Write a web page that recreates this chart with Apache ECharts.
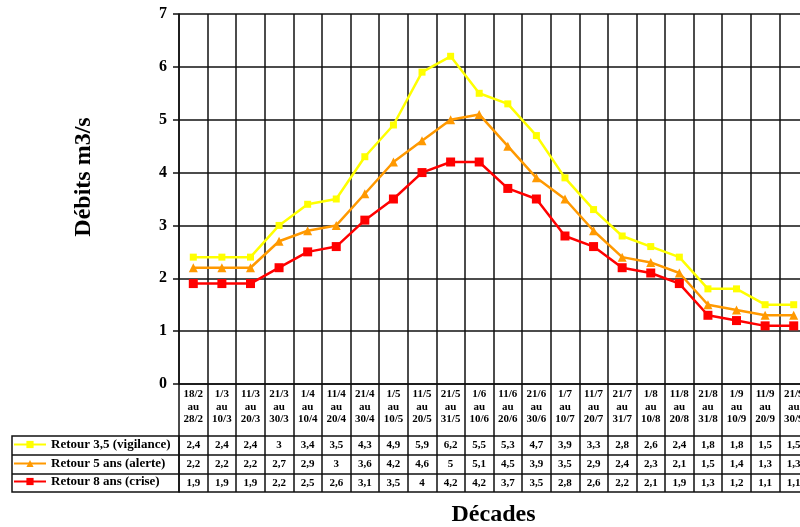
<!DOCTYPE html>
<html>
<head>
<meta charset="utf-8">
<script src="https://cdn.jsdelivr.net/npm/echarts@6/dist/echarts.min.js"></script>
<style>html,body{margin:0;padding:0;background:#fff}#c{width:800px;height:527px}</style>
</head>
<body>
<div id="c"></div>
<script>
const categories = ['18/2\nau\n28/2','1/3\nau\n10/3','11/3\nau\n20/3','21/3\nau\n30/3','1/4\nau\n10/4','11/4\nau\n20/4','21/4\nau\n30/4','1/5\nau\n10/5','11/5\nau\n20/5','21/5\nau\n31/5','1/6\nau\n10/6','11/6\nau\n20/6','21/6\nau\n30/6','1/7\nau\n10/7','11/7\nau\n20/7','21/7\nau\n31/7','1/8\nau\n10/8','11/8\nau\n20/8','21/8\nau\n31/8','1/9\nau\n10/9','11/9\nau\n20/9','21/9\nau\n30/9'];
const seriesNames = ['Retour 3,5 (vigilance)','Retour 5 ans (alerte)','Retour 8 ans (crise)'];
const vigilance = [2.4,2.4,2.4,3,3.4,3.5,4.3,4.9,5.9,6.2,5.5,5.3,4.7,3.9,3.3,2.8,2.6,2.4,1.8,1.8,1.5,1.5];
const alerte = [2.2,2.2,2.2,2.7,2.9,3,3.6,4.2,4.6,5,5.1,4.5,3.9,3.5,2.9,2.4,2.3,2.1,1.5,1.4,1.3,1.3];
const crise = [1.9,1.9,1.9,2.2,2.5,2.6,3.1,3.5,4,4.2,4.2,3.7,3.5,2.8,2.6,2.2,2.1,1.9,1.3,1.2,1.1,1.1];
const yTicks = [0,1,2,3,4,5,6,7];

const FONT = '"Liberation Serif", "Times New Roman", serif';
const LINE = '#111';
const fmt = v => String(v).replace('.', ',');

function tableAxis(offset, rowData, name) {
  return {
    type: 'category', gridIndex: 0, position: 'bottom', offset: offset,
    data: categories, boundaryGap: true,
    axisLine: {show: true, lineStyle: {color: LINE, width: 1.5}},
    axisTick: {show: false},
    splitLine: {show: false},
    axisLabel: rowData ? {
      show: true, interval: 0, margin: 4,
      fontFamily: FONT, fontWeight: 'bold', fontSize: 11, color: '#000',
      formatter: (v, i) => fmt(rowData[i])
    } : {show: false},
    name: name || '',
    nameLocation: 'middle', nameGap: 11,
    nameTextStyle: {fontFamily: FONT, fontWeight: 'bold', fontSize: 24, color: '#000'}
  };
}

const chart = echarts.init(document.getElementById('c'));
chart.setOption({
  animation: false,
  backgroundColor: '#fff',
  grid: {left: 179, top: 14, width: 629, height: 370, containLabel: false, outerBoundsMode: 'none'},
  legend: seriesNames.map((n, i) => ({
    data: [n], left: 13, top: [438, 457, 475][i], padding: 0,
    itemWidth: 32, itemHeight: 9, itemGap: 4,
    textStyle: {fontFamily: FONT, fontWeight: 'bold', fontSize: 13, color: '#000'}
  })),
  xAxis: [
    {
      type: 'category', gridIndex: 0, position: 'bottom', data: categories, boundaryGap: true,
      axisLine: {show: true, lineStyle: {color: LINE, width: 1.5}},
      axisTick: {show: true, interval: 0, alignWithLabel: false, length: 108, lineStyle: {color: LINE, width: 1.5}},
      splitLine: {show: true, interval: 0, lineStyle: {color: LINE, width: 1.5}},
      axisLabel: {interval: 0, margin: 4, fontFamily: FONT, fontWeight: 'bold', fontSize: 11, lineHeight: 12.5, color: '#000'}
    },
    tableAxis(52, vigilance),
    tableAxis(71, alerte),
    tableAxis(90, crise),
    tableAxis(108, null, 'Décades')
  ],
  yAxis: {
    type: 'value', min: 0, max: 7, interval: 1,
    axisLine: {show: true, lineStyle: {color: LINE, width: 1.5}},
    axisTick: {show: true, length: 6, lineStyle: {color: LINE, width: 1.5}},
    splitLine: {show: true, lineStyle: {color: LINE, width: 1.5}},
    axisLabel: {margin: 12, fontFamily: FONT, fontWeight: 'bold', fontSize: 16, color: '#000',
      formatter: v => yTicks.includes(v) ? String(v) : ''},
    name: 'Débits m3/s', nameLocation: 'middle', nameGap: 83,
    nameTextStyle: {fontFamily: FONT, fontWeight: 'bold', fontSize: 24, color: '#000', padding: [0, 0, 0, 44]}
  },
  graphic: [
    {type: 'rect', shape: {x: 12, y: 436, width: 167, height: 56}, style: {fill: 'none', stroke: LINE, lineWidth: 1.5}},
    {type: 'line', shape: {x1: 12, y1: 455, x2: 179, y2: 455}, style: {stroke: LINE, lineWidth: 1.5}},
    {type: 'line', shape: {x1: 12, y1: 474, x2: 179, y2: 474}, style: {stroke: LINE, lineWidth: 1.5}}
  ],
  series: [
    {name: seriesNames[0], type: 'line', data: vigilance, symbol: 'rect', symbolSize: 7,
      lineStyle: {color: '#FFFF00', width: 2.5}, itemStyle: {color: '#FFFF00'}},
    {name: seriesNames[1], type: 'line', data: alerte, symbol: 'triangle', symbolSize: 9,
      lineStyle: {color: '#FF9900', width: 2.5}, itemStyle: {color: '#FF9900'}},
    {name: seriesNames[2], type: 'line', data: crise, symbol: 'rect', symbolSize: 9,
      lineStyle: {color: '#FF0000', width: 2.5}, itemStyle: {color: '#FF0000'}}
  ]
});
</script>
</body>
</html>
